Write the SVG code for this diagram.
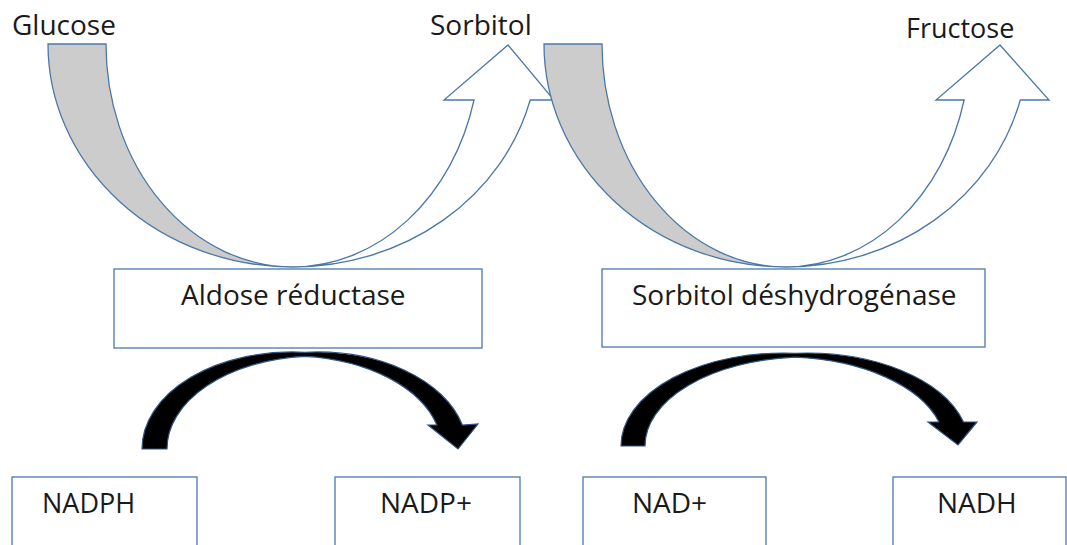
<svg xmlns="http://www.w3.org/2000/svg" width="1067" height="545" viewBox="0 0 1067 545">
<style>
  .box { fill: #ffffff; stroke: #4a78a8; stroke-width: 1.3; }
  .lbl { font-family: "Open Sans", "Noto Sans", "DejaVu Sans", sans-serif; font-size: 28px; fill: #1a1a1a; }
  .uback { fill: #cccccc; stroke: #4a78a8; stroke-width: 1.3; stroke-linejoin: miter; }
  .ufront { fill: #ffffff; stroke: #4a78a8; stroke-width: 1.3; stroke-linejoin: miter; }
  .cof { fill: #000000; stroke: #2f5580; stroke-width: 1.2; stroke-linejoin: miter; }
</style>
<rect width="1067" height="545" fill="#ffffff"/>

<g id="connectors">
  <!-- Glucose -> Sorbitol curved arrow -->
  <g id="arrow-glucose-sorbitol">
    <path class="uback" d="M 48 44 A 245 223 0 0 0 293 267 A 187 223 0 0 1 106 44 Z"/>
    <path class="ufront" d="M 293 267 A 245 223 0 0 0 530.2 100 L 554 100 L 508 45 L 444 100 L 474 100 A 187 223 0 0 1 293 267 Z"/>
  </g>
  <!-- Sorbitol -> Fructose curved arrow -->
  <g id="arrow-sorbitol-fructose">
    <path class="uback" d="M 544 44 A 242 223 0 0 0 786 267 A 184 223 0 0 1 602 44 Z"/>
    <path class="ufront" d="M 786 267 A 242 223 0 0 0 1020.3 100 L 1049 100 L 1000 45 L 936 100 L 964.1 100 A 184 223 0 0 1 786 267 Z"/>
  </g>
  <!-- NADPH -> NADP+ -->
  <path id="arrow-nadph-nadp" class="cof" d="M 142 449 A 150 97 0 0 1 304.5 352.3 A 150 97 0 0 1 462.3 425 L 478 424 L 458 449 L 428 425 L 436.9 425 A 150 93 0 0 0 304.5 356.3 A 150 93 0 0 0 167 449 Z"/>
  <!-- NAD+ -> NADH -->
  <path id="arrow-nad-nadh" class="cof" d="M 621 446 A 162 93 0 0 1 795 353.3 A 162 93 0 0 1 963.5 422 L 977 422 L 958 445 L 928 422 L 939 422 A 162 89 0 0 0 795 357.2 A 162 89 0 0 0 645 446 Z"/>
</g>

<g id="glucose"><text class="lbl" x="12" y="35">Glucose</text></g>
<g id="sorbitol"><text class="lbl" x="430" y="35">Sorbitol</text></g>
<g id="fructose"><text class="lbl" x="906" y="38" style="font-size:27px">Fructose</text></g>

<g id="aldose-reductase">
  <rect class="box" x="114" y="269" width="368" height="79"/>
  <text class="lbl" x="181" y="305">Aldose réductase</text>
</g>
<g id="sorbitol-deshydrogenase">
  <rect class="box" x="602" y="269" width="383" height="78"/>
  <text class="lbl" x="632" y="305">Sorbitol déshydrogénase</text>
</g>

<g id="nadph">
  <rect class="box" x="12" y="477" width="185" height="90"/>
  <text class="lbl" x="42" y="513" style="font-size:27px">NADPH</text>
</g>
<g id="nadp">
  <rect class="box" x="335" y="477" width="185" height="90"/>
  <text class="lbl" x="380" y="513">NADP+</text>
</g>
<g id="nad">
  <rect class="box" x="583" y="477" width="183" height="90"/>
  <text class="lbl" x="632" y="513">NAD+</text>
</g>
<g id="nadh">
  <rect class="box" x="893" y="477" width="173" height="90"/>
  <text class="lbl" x="937" y="513">NADH</text>
</g>
</svg>
